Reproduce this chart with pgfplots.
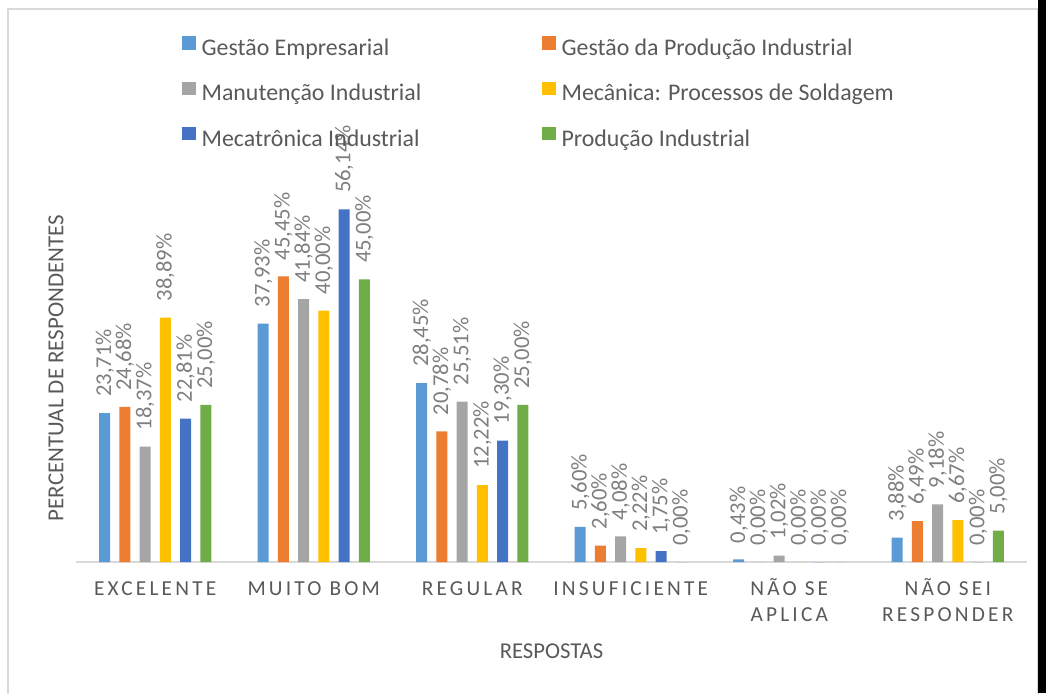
\documentclass[border=0pt]{standalone}
\usepackage{pgfplots}
\pgfplotsset{compat=1.18}
\usepackage{fontspec}
\setmainfont{Carlito}
\newfontfamily\catfont[LetterSpace=15]{Carlito}
\definecolor{cA}{HTML}{5B9BD5}
\definecolor{cB}{HTML}{ED7D31}
\definecolor{cC}{HTML}{A5A5A5}
\definecolor{cD}{HTML}{FFC000}
\definecolor{cE}{HTML}{4472C4}
\definecolor{cF}{HTML}{70AD47}
\definecolor{txt}{HTML}{595959}
\definecolor{lbl}{HTML}{7F7F7F}
\definecolor{brd}{HTML}{D9D9D9}
\pgfplotsset{mylegend/.style={legend image code/.code={\fill[##1] (0pt,0.5pt) rectangle (10pt,10.5pt);}}}
\begin{document}
\begin{tikzpicture}
\begin{axis}[
  at={(0,0)}, anchor=south west,
  scale only axis, width=713.25pt, height=282.75pt,
  xmin=-0.5, xmax=5.5, ymin=0, ymax=60,
  clip=false,
  ybar=6.9pt, bar width=8.25pt,
  axis line style={draw=none},
  ytick=\empty,
  xtick={0,...,5},
  xticklabels={{\rule{0pt}{15pt}EXCELENTE},{\rule{0pt}{15pt}MUITO BOM},{\rule{0pt}{15pt}REGULAR},{\rule{0pt}{15pt}INSUFICIENTE},{\rule{0pt}{15pt}NÃO SE\\APLICA},{\rule{0pt}{15pt}NÃO SEI\\RESPONDER}},
  major tick length=0pt,
  xticklabel style={font=\catfont\fontsize{16}{20}\selectfont, text=txt, align=center, anchor=north, inner sep=0pt, yshift=-9.75pt},
  xlabel={RESPOSTAS},
  xlabel style={at={(rel axis cs:0.5,0)}, anchor=base, yshift=-72pt, font=\fontsize{17}{20}\selectfont, text=txt},
  ylabel={PERCENTUAL DE RESPONDENTES},
  ylabel style={at={(rel axis cs:-0.0133,0.5146)}, anchor=base, font=\fontsize{17.2}{20}\selectfont, text=txt},
  /pgf/number format/assume math mode=true,
  nodes near coords={\pgfmathprintnumber[fixed,fixed zerofill,precision=2,use comma]{\pgfplotspointmeta}\%},
  every node near coord/.append style={rotate=90, anchor=west, font=\fontsize{17}{20}\selectfont, text=lbl, inner xsep=12pt, inner ysep=0pt},
  legend columns=2,
  legend cell align=left,
  legend style={at={(rel axis cs:0.11146,1.3953)}, anchor=north west, draw=none, fill=none, inner sep=0pt, row sep=15.5pt, column sep=0pt, font=\fontsize{17.9}{21}\selectfont, text=txt, nodes={inner sep=0pt, text height=12pt, text depth=4pt}},
]
\draw[brd, line width=1.1pt] (rel axis cs:0,0) -- (rel axis cs:1,0);
\addplot[fill=cA, draw=none, mylegend] coordinates {(0,23.71) (1,37.93) (2,28.45) (3,5.60) (4,0.43) (5,3.88)};
\addlegendentry{\hspace*{4.5pt}\makebox[255.5pt][l]{Gestão Empresarial}}
\addplot[fill=cB, draw=none, mylegend] coordinates {(0,24.68) (1,45.45) (2,20.78) (3,2.60) (4,0) (5,6.49)};
\addlegendentry{\hspace*{4.5pt}Gestão da Produção Industrial}
\addplot[fill=cC, draw=none, mylegend] coordinates {(0,18.37) (1,41.84) (2,25.51) (3,4.08) (4,1.02) (5,9.18)};
\addlegendentry{\hspace*{4.5pt}\makebox[255.5pt][l]{Manutenção Industrial}}
\addplot[fill=cD, draw=none, mylegend] coordinates {(0,38.89) (1,40.00) (2,12.22) (3,2.22) (4,0) (5,6.67)};
\addlegendentry{\hspace*{4.5pt}Mecânica: Processos de Soldagem}
\addplot[fill=cE, draw=none, mylegend] coordinates {(0,22.81) (1,56.14) (2,19.30) (3,1.75) (4,0) (5,0)};
\addlegendentry{\hspace*{4.5pt}\makebox[255.5pt][l]{Mecatrônica Industrial}}
\addplot[fill=cF, draw=none, mylegend] coordinates {(0,25.00) (1,45.00) (2,25.00) (3,0) (4,0) (5,5.00)};
\addlegendentry{\hspace*{4.5pt}Produção Industrial}
\end{axis}
\draw[brd, line width=1.1pt] (-51pt,-101pt) rectangle (721.5pt,414.75pt);
\fill[black] (721.5pt,-98.25pt) rectangle (727.5pt,421.5pt);
\pgfresetboundingbox
\path[use as bounding box] (-57pt,-98.25pt) rectangle (727.5pt,421.5pt);
\end{tikzpicture}
\end{document}
